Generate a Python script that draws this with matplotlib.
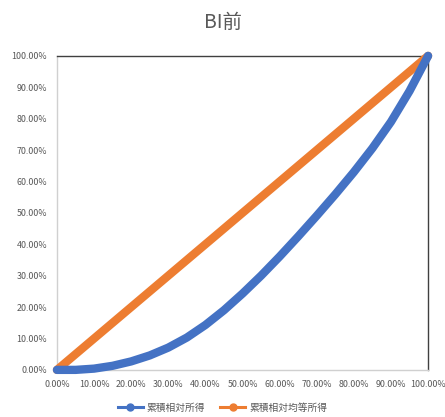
import numpy as np
import matplotlib
matplotlib.use("Agg")
import matplotlib.pyplot as plt
from matplotlib.ticker import PercentFormatter
from matplotlib.lines import Line2D

plt.rcParams['font.family'] = ['Noto Sans CJK JP', 'DejaVu Sans']

# cumulative population share (x) and cumulative income share
x_share = [0, 5, 10, 15, 20, 25, 30, 35, 40, 45, 50,
           55, 60, 65, 70, 75, 80, 85, 90, 95, 100]
income = [0, 0, 0.4, 1.3, 2.7, 4.6, 7.1, 10.3, 14.3, 19.0, 24.3,
          30.0, 36.1, 42.5, 49.1, 55.9, 63.0, 70.6, 79.0, 88.8, 100]
equal_x = [0, 100]
equal = [0, 100]

title = "BI前"
label_income = "累積相対所得"
label_equal = "累積相対均等所得"

blue = "#4472C4"
orange = "#ED7D31"
gray = "#595959"

fig = plt.figure(figsize=(4.45, 4.17), dpi=100)
ax = fig.add_axes([0.128, 0.113, 0.834, 0.753])

ax.plot(x_share, income, color=blue, lw=6, solid_capstyle="round",
        solid_joinstyle="round", label=label_income, zorder=3, clip_on=False)
ax.plot(equal_x, equal, color=orange, lw=6, solid_capstyle="round",
        label=label_equal, zorder=2, clip_on=False)

ax.set_xlim(0, 100)
ax.set_ylim(0, 100)
ax.set_xticks(np.arange(0, 101, 10))
ax.set_yticks(np.arange(0, 101, 10))
fmt = PercentFormatter(100, decimals=2)
ax.xaxis.set_major_formatter(fmt)
ax.yaxis.set_major_formatter(fmt)
ax.tick_params(length=0, labelsize=6.4, labelcolor=gray, pad=7)

for s in ["left", "bottom"]:
    ax.spines[s].set_color("#D0D0D0")
    ax.spines[s].set_linewidth(1)
for s in ["top", "right"]:
    ax.spines[s].set_color("#404040")
    ax.spines[s].set_linewidth(1)
for s in ax.spines.values():
    s.set_zorder(1)

fig.text(0.5, 0.945, title, ha="center", va="center", fontsize=14, color=gray)

handles = [Line2D([0], [0], color=blue, lw=2.2, marker="o", ms=5),
           Line2D([0], [0], color=orange, lw=2.2, marker="o", ms=5)]
fig.legend(handles, [label_income, label_equal], loc="center",
           bbox_to_anchor=(0.5, 0.022), ncol=2, frameon=False,
           fontsize=7, labelcolor=gray, handlelength=2.6,
           columnspacing=1.5, handletextpad=0.4)

fig.savefig("out.png", dpi=100)
